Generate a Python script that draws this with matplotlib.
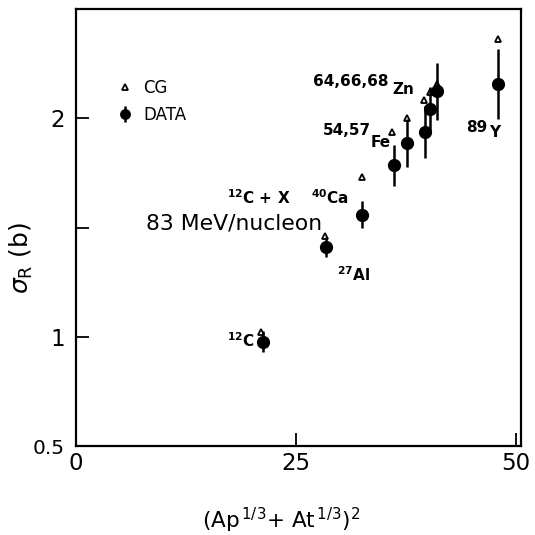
import matplotlib
matplotlib.use('Agg')
import matplotlib.pyplot as plt

plt.rcParams['font.family'] = ['DejaVu Sans']

# (Ap^1/3 + At^1/3)^2 for each target: 12C, 27Al, 40Ca, 54Fe, 57Fe, 64Zn, 66Zn, 68Zn, 89Y
x_data = [21.2, 28.4, 32.5, 36.1, 37.6, 39.7, 40.2, 41.05, 48.0]
# measured reaction cross sections (b) and errors
sigma_data = [0.979, 1.412, 1.56, 1.785, 1.887, 1.937, 2.043, 2.123, 2.158]
sigma_err = [0.046, 0.045, 0.062, 0.095, 0.11, 0.12, 0.10, 0.13, 0.16]
# Glauber (CG) calculation
x_cg = [21.06, 28.3, 32.5, 35.9, 37.6, 39.5, 40.2, 41.05, 47.9]
sigma_cg = [1.024, 1.461, 1.732, 1.937, 2.0, 2.085, 2.12, 2.158, 2.364]

x_ticks = [0, 25, 50]
y_ticks = [0.5, 1, 1.5, 2]
y_ticklabels = ['0.5', '1', '', '2']

fig = plt.figure(figsize=(5.35, 5.35), dpi=100)
ax = fig.add_axes([0.142, 0.166, 0.832, 0.817])

ax.plot(x_cg, sigma_cg, linestyle='none', marker='^', markersize=5,
        markerfacecolor='white', markeredgecolor='black', markeredgewidth=1.3,
        label='CG', zorder=2)
ax.errorbar(x_data, sigma_data, yerr=sigma_err, fmt='o', color='black',
            markersize=8.5, elinewidth=1.8, capsize=0, label='DATA', zorder=3)

ax.set_xlim(0, 50.57)
ax.set_ylim(0.5, 2.5)
ax.set_xticks(x_ticks)
ax.set_yticks(y_ticks)
ax.set_yticklabels(y_ticklabels)
ax.tick_params(direction='in', length=9.5, width=1.3, labelsize=16.5)
ax.tick_params(axis='x', pad=4)
ax.tick_params(axis='y', pad=8)
ax.get_yticklabels()[0].set_fontsize(14.5)
for s in ax.spines.values():
    s.set_linewidth(1.6)

# nucleus labels
bold = dict(fontsize=11, fontweight='bold', color='black')
ax.text(20.3, 0.956, r'$^{\mathbf{12}}$C', ha='right', **bold)
ax.text(29.7, 1.256, r'$^{\mathbf{27}}$Al', **bold)
ax.text(31.0, 1.607, r'$^{\mathbf{40}}$Ca', ha='right', **bold)
ax.text(17.2, 1.607, r'$^{\mathbf{12}}$C + X', **bold)
ax.text(7.95, 1.493, '83 MeV/nucleon', fontsize=15.75, color='black')
ax.text(28.1, 1.922, '54,57', **bold)
ax.text(33.5, 1.868, 'Fe', **bold)
ax.text(26.9, 2.146, '64,66,68', **bold)
ax.text(35.9, 2.11, 'Zn', **bold)
ax.text(44.3, 1.936, '89', **bold)
ax.text(46.9, 1.915, 'Y', **bold)

ax.legend(loc='upper left', bbox_to_anchor=(0.062, 0.875), frameon=False,
          fontsize=12, handlelength=0.8, handletextpad=0.7, labelspacing=0.55,
          numpoints=1, markerscale=0.8)

ax.set_xlabel(r'(Ap$^{\,1/3}$+ At$^{\,1/3}$)$^{2}$', fontsize=15.5)
ax.xaxis.set_label_coords(0.461, -0.137)
ax.set_ylabel(r'$\sigma_{\mathrm{R}}$ (b)', fontsize=18)
ax.yaxis.set_label_coords(-0.092, 0.43)

fig.savefig('out.png', dpi=100)
